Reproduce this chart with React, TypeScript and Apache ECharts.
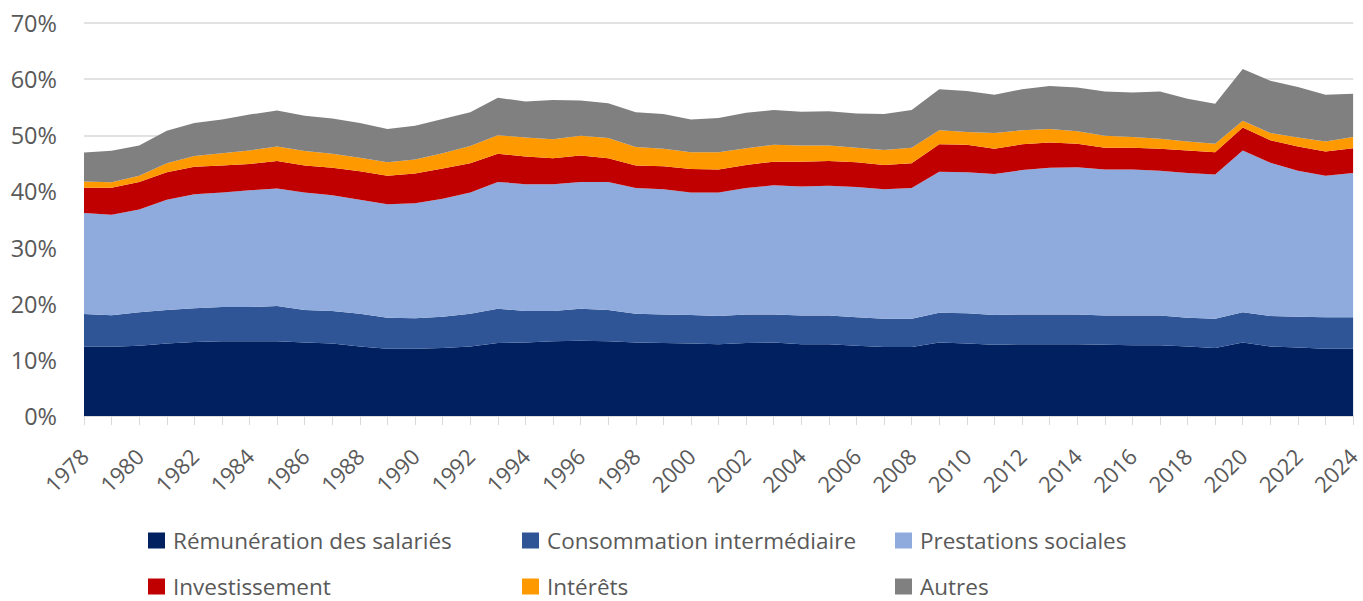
import React, { useEffect, useRef } from "react";
import * as echarts from "echarts";

const years = [
  "1978","1979","1980","1981","1982","1983","1984","1985","1986","1987",
  "1988","1989","1990","1991","1992","1993","1994","1995","1996","1997",
  "1998","1999","2000","2001","2002","2003","2004","2005","2006","2007",
  "2008","2009","2010","2011","2012","2013","2014","2015","2016","2017",
  "2018","2019","2020","2021","2022","2023","2024",
];

const remuneration = [
  12.35,12.35,12.5,12.9,13.2,13.3,13.3,13.3,13.1,12.9,
  12.4,12.0,12.0,12.1,12.4,13.0,13.1,13.3,13.4,13.3,
  13.1,13.0,12.9,12.8,13.0,13.1,12.8,12.8,12.5,12.3,
  12.3,13.1,12.9,12.7,12.8,12.8,12.8,12.7,12.6,12.6,
  12.4,12.1,13.1,12.4,12.2,12.0,12.0,
];
const consommation = [
  5.8,5.6,6.0,6.0,6.0,6.1,6.1,6.3,5.8,5.8,
  5.8,5.5,5.4,5.6,5.8,6.1,5.6,5.4,5.7,5.6,
  5.1,5.1,5.1,5.0,5.1,5.0,5.1,5.1,5.1,5.0,
  5.0,5.3,5.4,5.3,5.3,5.3,5.3,5.2,5.3,5.3,
  5.1,5.2,5.4,5.4,5.5,5.6,5.6,
];
const prestations = [
  18.0,17.9,18.3,19.6,20.3,20.4,20.8,20.9,20.9,20.6,
  20.3,20.2,20.5,21.0,21.6,22.6,22.6,22.6,22.6,22.8,
  22.4,22.3,21.8,22.0,22.5,23.0,23.0,23.1,23.2,23.1,
  23.3,25.1,25.1,25.1,25.7,26.1,26.2,26.0,26.0,25.8,
  25.8,25.7,28.8,27.3,26.0,25.2,25.7,
];
const investissement = [
  4.5,4.8,4.9,4.9,4.9,4.8,4.7,4.9,4.8,4.9,
  5.1,5.1,5.3,5.4,5.2,5.0,4.9,4.6,4.7,4.2,
  4.0,4.1,4.2,4.1,4.1,4.2,4.4,4.4,4.4,4.3,
  4.4,4.9,4.9,4.5,4.6,4.5,4.2,3.9,3.9,3.9,
  4.0,4.0,4.1,4.0,4.3,4.3,4.4,
];
const interets = [
  1.1,1.0,1.1,1.6,1.9,2.2,2.4,2.6,2.6,2.5,
  2.4,2.4,2.5,2.7,3.1,3.3,3.4,3.4,3.5,3.6,
  3.3,3.1,3.0,3.1,3.0,3.0,2.9,2.8,2.6,2.7,
  2.8,2.5,2.3,2.8,2.5,2.4,2.2,2.1,1.9,1.8,
  1.6,1.5,1.2,1.3,1.6,1.8,2.0,
];
const autres = [
  5.2,5.6,5.4,5.8,5.9,6.0,6.4,6.4,6.3,6.3,
  6.2,5.9,6.0,6.1,6.0,6.7,6.4,7.0,6.3,6.2,
  6.2,6.2,5.8,6.1,6.3,6.2,6.0,6.1,6.1,6.4,
  6.7,7.3,7.3,6.8,7.3,7.7,7.8,7.9,7.9,8.4,
  7.6,7.1,9.2,9.3,9.0,8.3,7.7,
];

const seriesNames = [
  "Rémunération des salariés",
  "Consommation intermédiaire",
  "Prestations sociales",
  "Investissement",
  "Intérêts",
  "Autres",
];
const seriesData = [remuneration, consommation, prestations, investissement, interets, autres];
const colors = ["#002060", "#2F5597", "#8FAADC", "#C00000", "#FF9900", "#808080"];

const FONT = "'Open Sans', 'Noto Sans', sans-serif";
const TEXT = "#595959";

export default function App() {
  const ref = useRef<HTMLDivElement>(null);
  useEffect(() => {
    if (!ref.current) return;
    const chart = echarts.init(ref.current, undefined, { renderer: "svg" });
    const legendPos = [
      { left: 148, top: 529 },
      { left: 522, top: 529 },
      { left: 895, top: 529 },
      { left: 148, top: 575 },
      { left: 522, top: 575 },
      { left: 895, top: 575 },
    ];
    chart.setOption({
      animation: false,
      color: colors,
      grid: { left: 84, right: 7, top: 23, bottom: 185, containLabel: false },
      legend: seriesNames.map((n, i) => ({
        data: [n],
        left: legendPos[i].left,
        top: legendPos[i].top,
        padding: 0,
        itemWidth: 17,
        itemHeight: 16,
        itemGap: 0,
        icon: "rect",
        selectedMode: false,
        textStyle: {
          fontSize: 22.5,
          lineHeight: 20,
          color: TEXT,
          fontFamily: FONT,
          padding: [0, 0, 0, 3],
        },
      })),
      xAxis: {
        type: "category",
        data: years,
        boundaryGap: false,
        axisLine: { lineStyle: { color: "#D9D9D9", width: 1.5 } },
        axisTick: { show: true, interval: 0, length: 9, lineStyle: { color: "#D9D9D9" } },
        axisLabel: {
          interval: 1,
          rotate: 45,
          fontSize: 22,
          color: TEXT,
          fontFamily: FONT,
          margin: 36,
        },
        splitLine: { show: false },
      },
      yAxis: {
        type: "value",
        min: 0,
        max: 70,
        interval: 10,
        axisLine: { show: false },
        axisTick: { show: false },
        axisLabel: {
          formatter: "{value}%",
          fontSize: 23.5,
          color: TEXT,
          fontFamily: FONT,
          margin: 27,
        },
        splitLine: { lineStyle: { color: "#D9D9D9", width: 1.5 } },
      },
      series: seriesNames.map((n, i) => ({
        name: n,
        type: "line",
        stack: "total",
        data: seriesData[i],
        showSymbol: false,
        symbol: "none",
        lineStyle: { width: 0 },
        areaStyle: { color: colors[i], opacity: 1 },
        itemStyle: { color: colors[i] },
      })),
    });
    return () => chart.dispose();
  }, []);
  return (
    <div
      ref={ref}
      style={{ position: "fixed", left: 0, top: 0, width: 1363, height: 601, background: "#fff" }}
    />
  );
}
